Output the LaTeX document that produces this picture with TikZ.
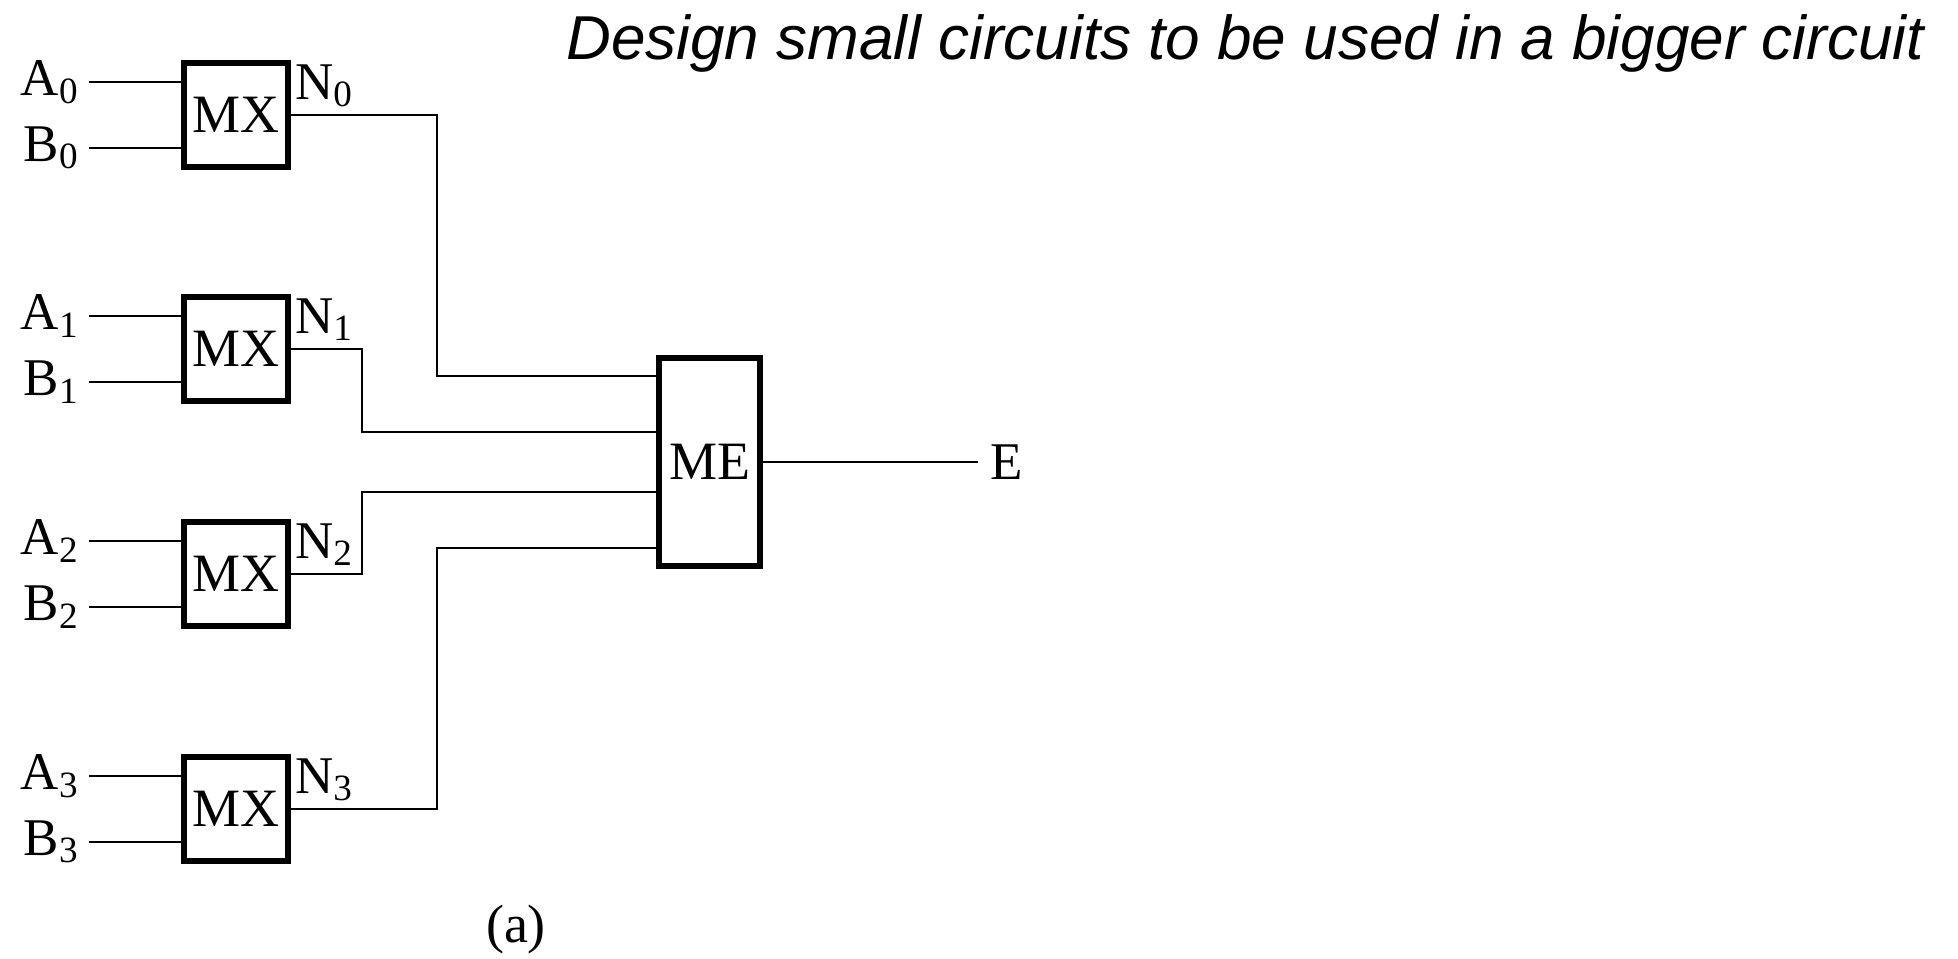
\documentclass[tikz,border=0pt]{standalone}
\usepackage{fontspec}
\setmainfont{Liberation Serif}
\newfontfamily\titlefont{Liberation Sans}
\begin{document}
\begin{tikzpicture}[x=0.5pt,y=-0.5pt,
  box/.style={draw, line width=2.7pt, inner sep=0pt, font=\fontsize{27}{27}\selectfont},
  mxbox/.style={box, minimum width=52pt, minimum height=52pt},
  wire/.style={line width=1.4pt},
  lab/.style={inner sep=0pt, font=\fontsize{26.5}{26.5}\selectfont},
]
\useasboundingbox (0,0) rectangle (1958,958);
\node[anchor=base west, inner sep=0pt, font=\titlefont\itshape\fontsize{31}{31}\selectfont] (title) at (566,59) {Design small circuits to be used in a bigger circuit};

\node[box, minimum width=50.5pt, minimum height=104pt] (me) at (709.5,462) {ME};
\coordinate (me0) at ([yshift=43pt]me.west);
\coordinate (me1) at ([yshift=15pt]me.west);
\coordinate (me2) at ([yshift=-15pt]me.west);
\coordinate (me3) at ([yshift=-43pt]me.west);

\foreach \i/\y/\xt in {0/115/437, 1/349/362, 2/574/362, 3/809/437} {
  \node[mxbox] (mx\i) at (236,\y) {MX};
  \node[lab, anchor=east, inner xsep=5pt] (a\i) at (89,\y-33) {A\textsubscript{\i}};
  \node[lab, anchor=east, inner xsep=5pt] (b\i) at (89,\y+33) {B\textsubscript{\i}};
  \node[lab, anchor=north west, inner sep=2pt] (n\i) at (mx\i.north east) {N\textsubscript{\i}};
  \draw[wire] (a\i.east) -- (a\i.east -| mx\i.west);
  \draw[wire] (b\i.east) -- (b\i.east -| mx\i.west);
  \draw[wire] (mx\i.east) -- (\xt,\y) |- (me\i);
}

\node[lab, anchor=west] (e) at (990,462) {E};
\draw[wire, shorten >=6pt] (me.east) -- (e.west);
\node[lab, font=\fontsize{27}{27}\selectfont] (cap) at (516,930) {(a)};
\end{tikzpicture}
\end{document}
